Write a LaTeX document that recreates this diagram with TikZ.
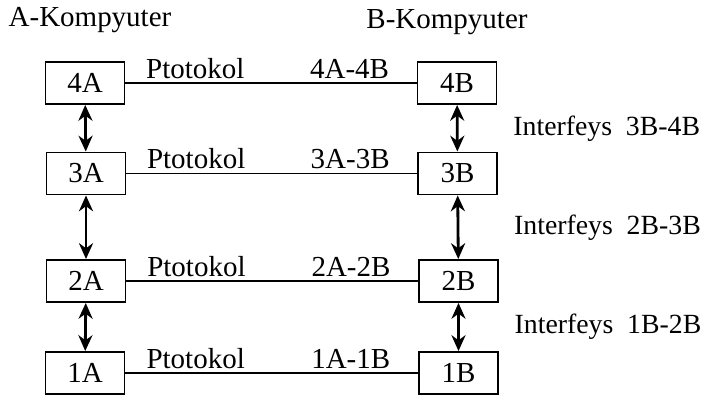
\documentclass[tikz,border=0pt]{standalone}
\usepackage{fontspec}
\setmainfont{Liberation Serif}
\usetikzlibrary{arrows.meta}
\begin{document}
\begin{tikzpicture}[
    font=\fontsize{16.5}{19}\selectfont,
    layer/.style={draw,line width=1.1pt,minimum width=1.58cm,minimum height=0.84cm,inner sep=0pt},
    proto/.style={line width=1pt},
    iface/.style={{Stealth[length=9pt,width=8pt]}-{Stealth[length=9pt,width=8pt]},line width=1.6pt},
    lbl/.style={inner sep=2pt},
    note/.style={font=\fontsize{15.8}{19}\selectfont,inner sep=1pt}]
  \useasboundingbox (0,0) rectangle (14.02,-7.92);
  % sarlavhalar
  \node (tA) at (1.80,-0.40) {A-Kompyuter};
  \node (tB) at (8.94,-0.44) {B-Kompyuter};
  % qatlamlar
  \node[layer] (a4) at (1.70,-1.66) {4A};
  \node[layer] (a3) at (1.72,-3.47) {3A};
  \node[layer] (a2) at (1.72,-5.62) {2A};
  \node[layer] (a1) at (1.70,-7.46) {1A};
  \node[layer] (b4) at (9.14,-1.66) {4B};
  \node[layer] (b3) at (9.15,-3.47) {3B};
  \node[layer] (b2) at (9.17,-5.62) {2B};
  \node[layer] (b1) at (9.17,-7.46) {1B};
  % protokollar
  \foreach \n in {4,3,2,1}{
    \draw[proto] (a\n) -- node[lbl,pos=0.24,above]{Ptotokol} node[lbl,pos=0.77,above]{\n A-\n B} (b\n);
  }
  % interfeyslar
  \draw[iface] (a4) -- (a3);
  \draw[iface] (a3) -- (a2);
  \draw[iface] (a2) -- (a1);
  \draw[iface] (b4) -- node[note,right=1.06cm]{Interfeys\hspace{0.5em}3B-4B} (b3);
  \draw[iface] (b3) -- node[note,right=1.06cm]{Interfeys\hspace{0.5em}2B-3B} (b2);
  \draw[iface] (b2) -- node[note,right=1.06cm]{Interfeys\hspace{0.5em}1B-2B} (b1);
\end{tikzpicture}
\end{document}
